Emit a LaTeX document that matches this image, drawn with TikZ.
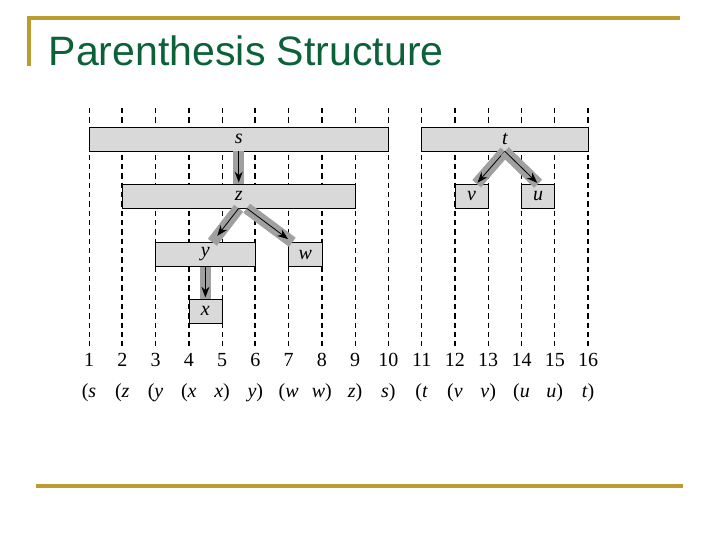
\documentclass[tikz,border=0pt]{standalone}
\usepackage{fontspec}
\setmainfont{Liberation Serif}
\newfontfamily\titlefont{Liberation Sans}
\usetikzlibrary{arrows.meta,calc}

\definecolor{gold}{RGB}{190,155,48}
\definecolor{titlegreen}{RGB}{12,98,56}
\definecolor{barfill}{RGB}{217,217,217}
\definecolor{bandgray}{RGB}{160,160,160}

\tikzset{
  bar/.style={draw=black, fill=barfill, inner sep=0pt, minimum height=18pt,
    minimum width=#1*24.95pt, font=\fontsize{15}{15}\selectfont\itshape},
  band/.style={draw=bandgray, line width=8.5pt},
  edge/.style={-{Stealth[length=8pt,width=6pt]}, line width=0.6pt, shorten >=1pt},
  thintick/.style={dash pattern=on 4pt off 3pt, line width=0.6pt},
  thicktick/.style={dash pattern=on 4pt off 3pt, line width=1.3pt},
  frame/.style={draw=gold, line width=2.3pt}
}

\begin{document}
\begin{tikzpicture}[x=0.75pt, y=-0.75pt]
\useasboundingbox (0, 0) rectangle (720, 540);

% slide frame and title
\draw [frame] (680, 18) -- (29, 18) -- (29, 66);
\draw [frame] (36, 486) -- (683, 486);
\node [anchor=base west, text=titlegreen, font=\titlefont\fontsize{30.8}{31}\selectfont]
  (title) at (44, 65) {Parenthesis Structure};

% time lines
\foreach \i in {1,3,5,7,9,10,11,13,14,15}
  \draw [thintick] ({89+33.27*(\i-1)}, 108) -- ({89+33.27*(\i-1)}, 346);
\foreach \i in {2,4,6,8,12,16}
  \draw [thicktick] ({89+33.27*(\i-1)}, 108) -- ({89+33.27*(\i-1)}, 346);

% intervals
\node [bar=9] (s) at (238.7, 139) {s};
\node [bar=7] (z) at (238.7, 196) {z};
\node [bar=3] (y) at (205.4, 254.5) {y};
\node [bar=1] (w) at (305.2, 254.5) {w};
\node [bar=1] (x) at (205.4, 311) {x};
\node [bar=5] (t) at (504.8, 139) {t};
\node [bar=1] (v) at (471.6, 196) {v};
\node [bar=1] (u) at (538.1, 196) {u};

% tree edges
\draw [band] (s.south) -- (z.north);
\draw [edge] (s.south) -- (z.north);
\draw [band] (z.south) -- ($(y.north)+(7,0)$);
\draw [edge, shorten >=6pt] (z.south) -- ($(y.north)+(7,0)$);
\draw [band] ($(z.south)+(8,0)$) -- ($(w.north west)+(4,0)$);
\draw [edge, shorten >=4pt] ($(z.south)+(8,0)$) -- ($(w.north west)+(4,0)$);
\draw [band] (y.south) -- (x.north);
\draw [edge] (y.south) -- (x.north);
\draw [band] (t.south) -- ($(v.north)+(5,0)$);
\draw [edge] (t.south) -- ($(v.north)+(5,0)$);
\draw [band] (t.south) -- (u.north);
\draw [edge] (t.south) -- (u.north);

% times and parentheses
\foreach \i/\lab in {1/{(\textit{s}}, 2/{(\textit{z}}, 3/{(\textit{y}}, 4/{(\textit{x}},
    5/{\textit{x})}, 6/{\textit{y})}, 7/{(\textit{w}}, 8/{\textit{w})}, 9/{\textit{z})},
    10/{\textit{s})}, 11/{(\textit{t}}, 12/{(\textit{v}}, 13/{\textit{v})},
    14/{(\textit{u}}, 15/{\textit{u})}, 16/{\textit{t})}} {
  \node [font=\fontsize{15}{15}\selectfont] (n\i) at ({89+33.27*(\i-1)}, 360) {\i};
  \node [font=\fontsize{15}{15}\selectfont] (p\i) at ({89+33.27*(\i-1)}, 393) {\lab};
}
\end{tikzpicture}
\end{document}
